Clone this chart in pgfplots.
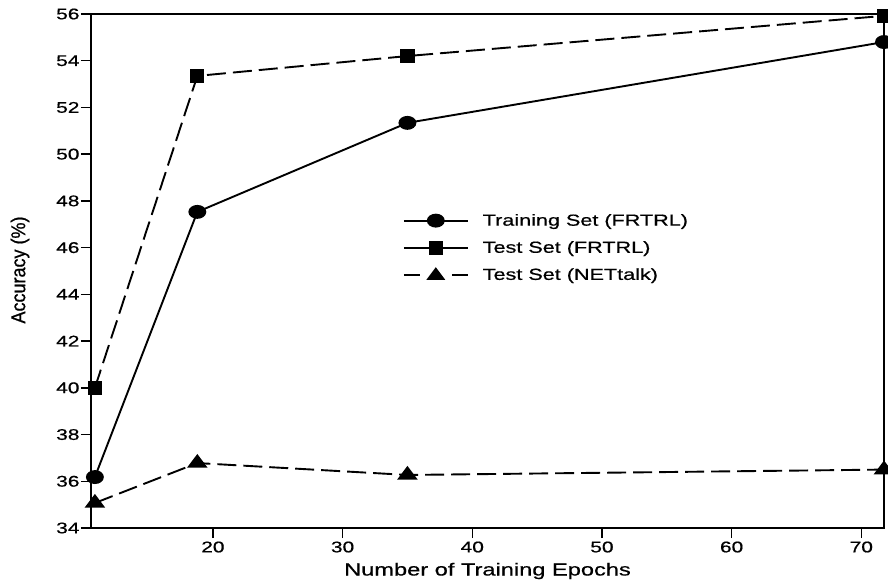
\documentclass[border=0pt]{standalone}
\usepackage{pgfplots}
\pgfplotsset{compat=1.18}
\usepackage{fontspec}
\setmainfont[FakeStretch=1.35,FakeBold=0.6]{Liberation Sans}
\newfontfamily\ylabfont[FakeBold=0.8,FakeStretch=0.9]{Liberation Sans}
\begin{document}
\begin{tikzpicture}
\begin{axis}[
  scale only axis,
  width=793pt, height=514pt,
  xmin=10.6, xmax=71.75, ymin=34, ymax=56,
  xtick={20,30,40,50,60,70},
  ytick={34,36,...,56},
  tick align=outside,
  major tick length=10pt,
  xtick pos=bottom, ytick pos=left,
  axis line style={line width=1.8pt},
  every tick/.style={black, line width=1.4pt},
  tick label style={font=\fontsize{15.5}{18}\selectfont},
  yticklabel style={xshift=2pt},
  /pgf/number format/assume math mode=true,
  xlabel={Number of Training Epochs},
  xlabel style={font=\fontsize{17.5}{20}\selectfont, at={(rel axis cs:0.5,0)}, anchor=center, yshift=-43pt},
  legend style={draw=none, fill=none, inner sep=0pt, at={(rel axis cs:0.393,0.615)}, anchor=north west,
    font=\fontsize{16}{19}\selectfont, row sep=10pt,
    /tikz/every odd column/.append style={column sep=12pt}},
  legend cell align=left,
  every axis plot/.append style={line width=1.9pt, black},
  clip marker paths=false,
]
\addplot[forget plot, mark=*, mark size=6pt, mark options={xscale=1.33}, solid] coordinates {(10.9,36.18) (18.8,47.53) (35,51.34) (71.75,54.8)};
\addplot[forget plot, mark=square*, mark size=6.2pt, mark options={solid}, dash pattern=on 19pt off 7pt] coordinates {(10.9,40.0) (18.8,53.35) (35,54.2) (71.75,55.92)};
\addplot[forget plot, mark=triangle*, mark size=7.5pt, mark options={solid, xscale=1.3}, dash pattern=on 19pt off 7pt] coordinates {(10.9,35.07) (18.8,36.78) (35,36.27) (71.75,36.5)};
\addlegendimage{legend image code/.code={\draw[line width=1.9pt] (0pt,0pt) -- (64pt,0pt); \fill (32pt,0pt) ellipse [x radius=8pt, y radius=6pt];}}
\addlegendentry{Training Set (FRTRL)}
\addlegendimage{legend image code/.code={\draw[line width=1.9pt] (0pt,0pt) -- (64pt,0pt); \fill (26pt,-6pt) rectangle (38pt,6pt);}}
\addlegendentry{Test Set (FRTRL)}
\addlegendimage{legend image code/.code={\draw[line width=1.9pt] (0pt,0pt) -- (16pt,0pt) (48pt,0pt) -- (64pt,0pt); \fill (24.5pt,-4pt) -- (39.5pt,-4pt) -- (32pt,6pt) -- cycle;}}
\addlegendentry{Test Set (NETtalk)}
\end{axis}
\node[rotate=90, anchor=center, inner sep=0pt, font=\ylabfont\fontsize{20}{24}\selectfont] at (-71pt,258pt) {Accuracy (\%)};
\pgfresetboundingbox
\path (-91pt,-60pt) rectangle (797pt,528pt);
\end{tikzpicture}
\end{document}
